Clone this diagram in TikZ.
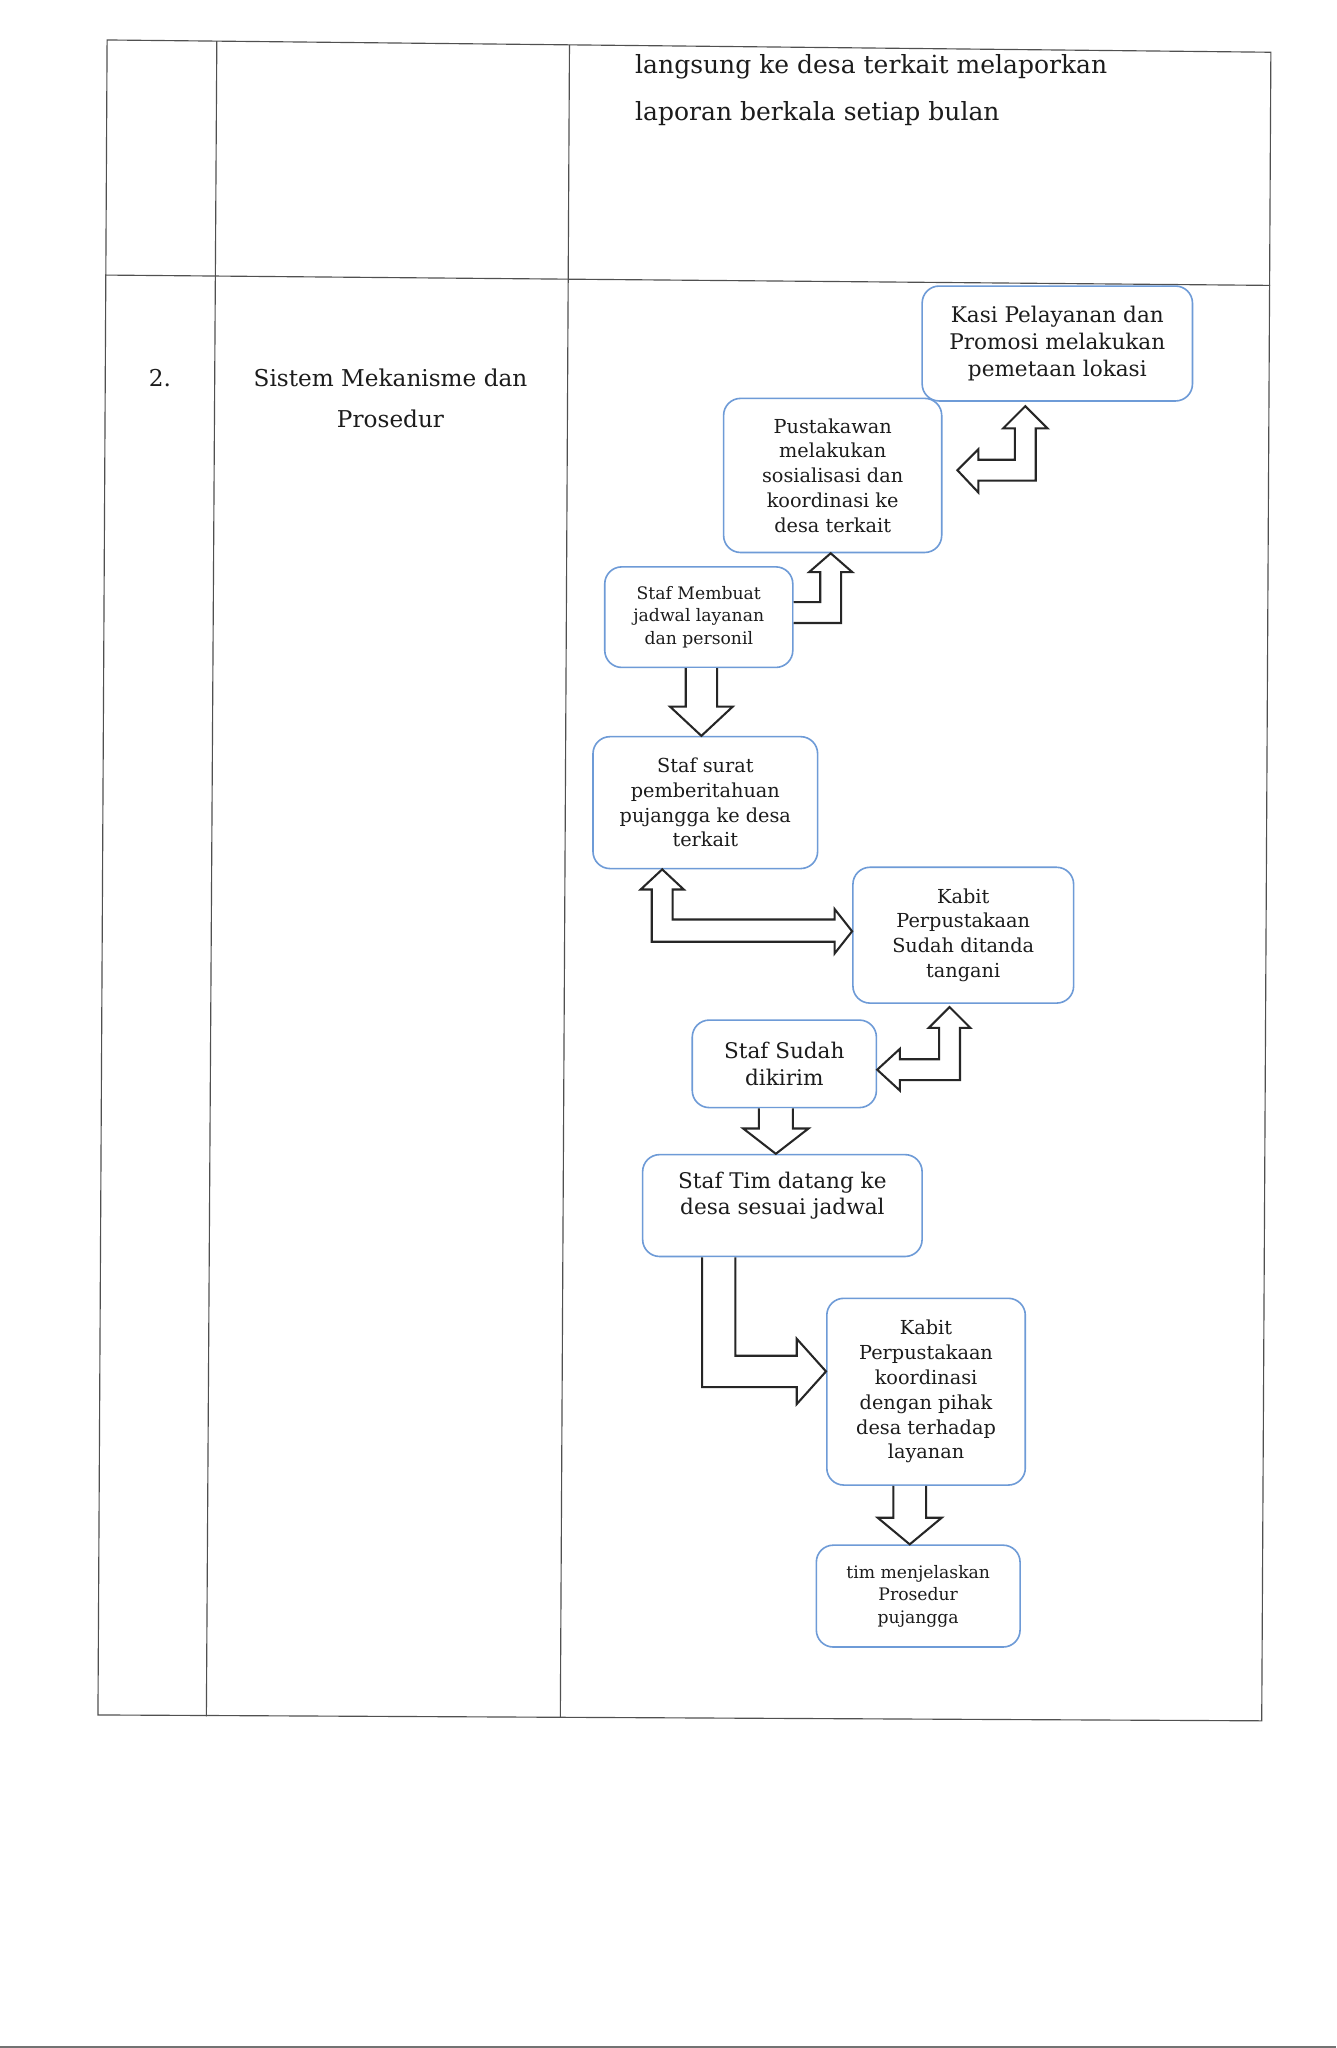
\documentclass[tikz,border=0pt]{standalone}
\usepackage{fontspec}
\setmainfont{DejaVu Serif}
\usetikzlibrary{calc}
\definecolor{boxblue}{RGB}{110,155,215}
\definecolor{ink}{RGB}{28,28,28}
\definecolor{rulegray}{RGB}{80,80,80}
\begin{document}
\begin{tikzpicture}[x=0.02cm,y=-0.02cm,
  flowbox/.style={draw=boxblue, line width=0.7pt, rounded corners=0.26cm, align=center, inner sep=0pt, text=ink},
  blockarrow/.style={draw=black!85, fill=white, line width=0.9pt, line join=miter},
  tableline/.style={draw=rulegray, line width=0.5pt},
  tabletext/.style={text=ink, inner sep=0pt},
  bigtxt/.style={font=\fontsize{9.4}{11.6}\selectfont},
  midtxt/.style={font=\fontsize{8.4}{10.8}\selectfont},
  smalltxt/.style={font=\fontsize{7.5}{9.8}\selectfont},
  tabtxt/.style={font=\fontsize{10.9}{13}\selectfont},
  coltxt/.style={font=\fontsize{10.1}{12}\selectfont}]
\fill[white] (0,0) rectangle (1023,1568);
\useasboundingbox (0,0) rectangle (1023,1568);
% scan edge at the bottom of the page
\fill[black!55] (0,1566.6) rectangle (1023,1568);

% table
\coordinate (TL) at (82,30.6);
\coordinate (TR) at (973,40);
\coordinate (BL) at (75,1313);
\coordinate (BR) at (966,1317.5);
\coordinate (RL) at (81,210.6);
\coordinate (RR) at (972.5,218.5);
\coordinate (C1T) at (166,31.5);
\coordinate (C1B) at (158,1314);
\coordinate (C2T) at (436,34.3);
\coordinate (C2B) at (429,1315);
\draw[tableline] (TL) -- (TR) -- (BR) -- (BL) -- cycle;
\draw[tableline] (RL) -- (RR);
\draw[tableline] (C1T) -- (C1B);
\draw[tableline] (C2T) -- (C2B);

% table texts
\node[tabletext, tabtxt, anchor=base west] (r1a) at (486,56) {langsung ke desa terkait melaporkan};
\node[tabletext, tabtxt, anchor=base west] (r1b) at (486,92) {laporan berkala setiap bulan};
\node[tabletext, coltxt, anchor=base] (num) at (122.5,296) {2.};
\node[tabletext, coltxt, anchor=base] (c2a) at (299,296) {Sistem Mekanisme dan};
\node[tabletext, coltxt, anchor=base] (c2b) at (299,327) {Prosedur};

% flow boxes
\node[flowbox, bigtxt, minimum width=4.14cm, minimum height=1.76cm] (kasi) at (809.5,263) {Kasi Pelayanan dan\\Promosi melakukan\\pemetaan lokasi};
\node[flowbox, midtxt, minimum width=3.34cm, minimum height=2.36cm] (pusta) at (637.5,364) {Pustakawan\\melakukan\\sosialisasi dan\\koordinasi ke\\desa terkait};
\node[flowbox, smalltxt, minimum width=2.88cm, minimum height=1.54cm] (mbuat) at (535,472.5) {Staf Membuat\\jadwal layanan\\dan personil};
\node[flowbox, midtxt, minimum width=3.44cm, minimum height=2.02cm] (stsurat) at (540,614.5) {Staf surat\\pemberitahuan\\pujangga ke desa\\terkait};
\node[flowbox, midtxt, minimum width=3.38cm, minimum height=2.08cm] (kbsudah) at (737.5,716) {Kabit\\Perpustakaan\\Sudah ditanda\\tangani};
\node[flowbox, bigtxt, minimum width=2.82cm, minimum height=1.34cm] (stsudah) at (600.5,814.5) {Staf Sudah\\dikirim};
\node[flowbox, minimum width=4.28cm, minimum height=1.56cm] (stim) at (599,923) {};
\node[tabletext, bigtxt, align=center] (stimtext) at ($(stim.center)+(0,-7.5)$) {Staf Tim datang ke\\desa sesuai jadwal};
\node[flowbox, midtxt, minimum width=3.04cm, minimum height=2.86cm] (kbkoord) at (709,1065.5) {Kabit\\Perpustakaan\\koordinasi\\dengan pihak\\desa terhadap\\layanan};
\node[flowbox, smalltxt, minimum width=3.12cm, minimum height=1.56cm] (timbox) at (703,1222) {tim menjelaskan\\Prosedur\\pujangga};

% block arrows
% A: Staf Membuat -> Pustakawan
\draw[blockarrow] (mbuat.east |- 0,461) -- (628,461) -- (628,438) -- (619.5,438) -- (pusta.south -| 636,0) -- (652.5,438) -- (644,438) -- (644,477) -- (mbuat.east |- 0,477);
% B: Pustakawan <-> Kasi
\draw[blockarrow] (785,311) -- (802,328) -- (793,328) -- (793,368) -- (749,368) -- (749,377) -- (733,360) -- (749,344) -- (749,352) -- (777,352) -- (777,328) -- (768,328) -- cycle;
% C: Staf surat <-> Kabit (ditanda tangani)
\draw[blockarrow] (stsurat.south -| 507,0) -- (523.5,681) -- (515,681) -- (515,704) -- (639,704) -- (639,696) -- (kbsudah.west |- 0,713) -- (639,730) -- (639,721) -- (499,721) -- (499,681) -- (490.5,681) -- cycle;
% D: Staf Sudah <-> Kabit
\draw[blockarrow] (727,771) -- (743,787) -- (735,787) -- (735,827) -- (689,827) -- (689,835) -- (stsudah.east |- 0,819) -- (689,803) -- (689,811) -- (719,811) -- (719,787) -- (711,787) -- cycle;
% E: Staf Membuat -> Staf surat
\draw[blockarrow] (mbuat.south -| 525,0) -- (525,541) -- (513,541) -- (stsurat.north -| 537,0) -- (561,541) -- (549,541) -- (mbuat.south -| 549,0);
% F: Staf Sudah -> Staf Tim
\draw[blockarrow] (stsudah.south -| 581,0) -- (581,864) -- (569,864) -- (stim.north -| 594,0) -- (619,864) -- (607,864) -- (stsudah.south -| 607,0);
% G: Staf Tim -> Kabit koordinasi
\draw[blockarrow] (stim.south -| 537.5,0) -- (537.5,1062) -- (610,1062) -- (610,1075) -- (kbkoord.west |- 0,1050) -- (610,1025) -- (610,1038) -- (563,1038) -- (stim.south -| 563,0);
% H: Kabit koordinasi -> tim
\draw[blockarrow] (kbkoord.south -| 684,0) -- (684,1162) -- (672,1162) -- (timbox.north -| 696.5,0) -- (721,1162) -- (709,1162) -- (kbkoord.south -| 709,0);
\end{tikzpicture}
\end{document}
